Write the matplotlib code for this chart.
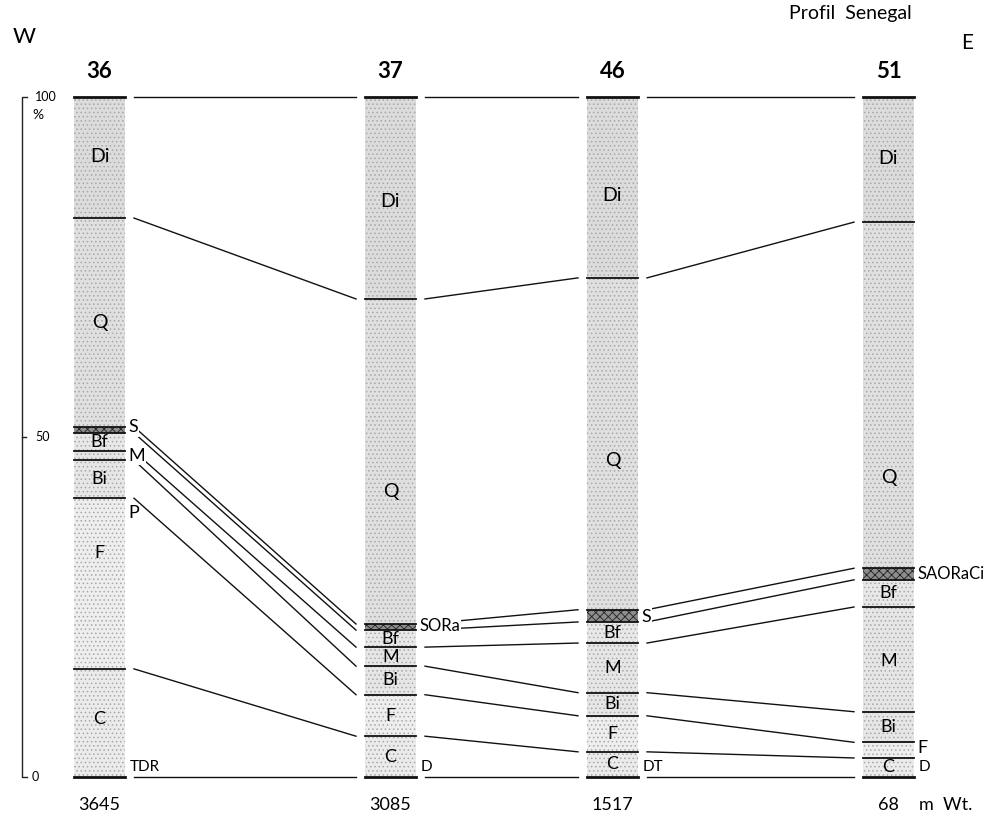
import matplotlib
matplotlib.use("Agg")
import matplotlib.pyplot as plt
from matplotlib.patches import Rectangle

plt.rcParams['font.family'] = ['Lato', 'DejaVu Sans']
plt.rcParams['hatch.linewidth'] = 0.6

stations = ["36", "37", "46", "51"]
weights = ["3645", "3085", "1517", "68"]
layers = ["Di", "Q", "S", "Bf", "M", "Bi", "F", "C"]

# layer boundaries in %, top to bottom (same layer order in every core)
bounds_36 = [100, 82.2, 51.5, 50.6, 47.9, 46.6, 41.0, 15.9, 0]
bounds_37 = [100, 70.3, 22.5, 21.6, 19.1, 16.3, 12.1, 6.0, 0]
bounds_46 = [100, 73.4, 24.6, 22.8, 19.7, 12.4, 9.0, 3.7, 0]
bounds_51 = [100, 81.6, 30.7, 29.0, 25.0, 9.6, 5.1, 2.8, 0]
all_bounds = [bounds_36, bounds_37, bounds_46, bounds_51]

# names written inside each column and the % where they stand
inside_36 = ["Di", "Q", "Bf", "Bi", "F", "C"]
inside_y_36 = [91.3, 66.9, 49.2, 43.8, 33.0, 8.5]
inside_37 = ["Di", "Q", "Bf", "M", "Bi", "F", "C"]
inside_y_37 = [84.6, 42.0, 20.3, 17.7, 14.2, 9.0, 3.0]
inside_46 = ["Di", "Q", "Bf", "M", "Bi", "F", "C"]
inside_y_46 = [85.5, 46.6, 21.2, 16.0, 10.7, 6.3, 1.9]
inside_51 = ["Di", "Q", "Bf", "M", "Bi", "C"]
inside_y_51 = [91.0, 44.0, 27.0, 17.0, 7.3, 1.4]
all_inside = [inside_36, inside_37, inside_46, inside_51]
all_inside_y = [inside_y_36, inside_y_37, inside_y_46, inside_y_51]

# labels written beside the column (text, %)
side_36 = [("S", 51.4), ("M", 47.2), ("P", 38.8)]
side_37 = [("SORa", 22.2)]
side_46 = [("S", 23.5)]
side_51 = [("SAORaCi", 29.9), ("F", 4.3)]
all_side = [side_36, side_37, side_46, side_51]
bottom_tags = ["TDR", "D", "DT", "D"]

# layout (pixels of the 1008x819 picture)
col_left = [74, 365, 587, 863]
col_w = 51
gap = 9
y0_px = 777
px_per_pct = 6.8


def pct(py):
    return (y0_px - py) / px_per_pct


fig = plt.figure(figsize=(10.08, 8.19), dpi=100)
ax = fig.add_axes([0, 0, 1, 1])
ax.set_xlim(0, 1008)
ax.set_ylim(pct(819), pct(0))
ax.axis('off')

shade = {"Di": "#dcdcdc", "Q": "#e0e0e0", "Bf": "#e8e8e8", "M": "#e6e6e6",
         "Bi": "#e6e6e6", "F": "#eeeeee", "C": "#ebebeb"}

for c in range(4):
    b = all_bounds[c]
    x0 = col_left[c]
    x1 = x0 + col_w
    xc = x0 + col_w / 2
    for i, name in enumerate(layers):
        top, bot = b[i], b[i + 1]
        if name == "S":
            ax.add_patch(Rectangle((x0, bot), col_w, top - bot, facecolor="#8c8c8c",
                                   edgecolor="#222222", hatch="xxxx", linewidth=0, zorder=2))
        else:
            ax.add_patch(Rectangle((x0, bot), col_w, top - bot, facecolor=shade[name],
                                   edgecolor="#a8a8a8", hatch="....", linewidth=0, zorder=1))
    for j, v in enumerate(b):
        lw = 2.0 if j in (0, len(b) - 1) else 1.3
        ax.plot([x0, x1], [v, v], color="#111111", lw=lw, zorder=3)
    for name, ym in zip(all_inside[c], all_inside_y[c]):
        fs = 14 if name in ("Di", "Q") else 13
        ax.text(xc, ym, name, ha="center", va="center", fontsize=fs, zorder=4)
    for txt, yv in all_side[c]:
        ax.text(x1 + 3, yv, txt, ha="left", va="center", fontsize=13 if len(txt) == 1 else 12,
                zorder=6, bbox=dict(facecolor="white", edgecolor="none", pad=1.0))
    ax.text(x1 + 5, 0.4, bottom_tags[c], ha="left", va="bottom", fontsize=11, zorder=6)
    ax.text(xc, pct(72), stations[c], ha="center", va="center", fontsize=16,
            fontweight="bold", zorder=4)
    ax.text(xc, pct(805), weights[c], ha="center", va="center", fontsize=13, zorder=4)

# connecting lines between neighbouring cores
for c in range(3):
    xa = col_left[c] + col_w + gap
    xb = col_left[c + 1] - gap
    for va, vb in zip(all_bounds[c], all_bounds[c + 1]):
        ax.plot([xa, xb], [va, vb], color="#111111", lw=1.0, zorder=5)

# scale bar on the left
ax.plot([27, 22, 22, 27], [100, 100, 0, 0], color="#222222", lw=1.0)
ax.plot([22, 26], [50, 50], color="#222222", lw=1.0)
ax.text(35, 100, "100", ha="left", va="center", fontsize=9)
ax.text(38, pct(115), "%", ha="center", va="center", fontsize=10)
ax.text(35, 50, "50", ha="left", va="center", fontsize=9)
ax.text(32, 0, "0", ha="left", va="center", fontsize=9)

ax.text(24, pct(37), "W", ha="center", va="center", fontsize=16)
ax.text(967, pct(43), "E", ha="center", va="center", fontsize=15)
ax.text(912, pct(13), "Profil  Senegal", ha="right", va="center", fontsize=14)
ax.text(col_left[3] + col_w + 5, pct(805), "m  Wt.", ha="left", va="center", fontsize=13)

fig.savefig("out.png", dpi=100)
